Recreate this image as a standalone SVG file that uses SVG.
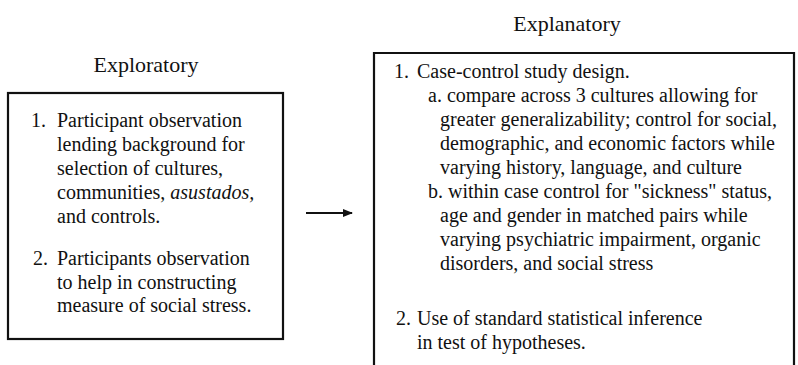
<svg xmlns="http://www.w3.org/2000/svg" width="798" height="365" viewBox="0 0 798 365">
<defs>
<style>
text{font-family:"Liberation Serif","Times New Roman",serif;fill:#111;}
.h{font-size:22px;}
.t{font-size:20px;}
.box{fill:none;stroke:#111;stroke-width:2.2;}
</style>
<marker id="ah" viewBox="0 0 10 10" refX="9" refY="5" markerWidth="10" markerHeight="10" markerUnits="userSpaceOnUse" orient="auto">
<path d="M0,1 L10,5 L0,9 Z" fill="#111"/>
</marker>
</defs>
<rect width="798" height="365" fill="#fff"/>
<g id="exploratory">
<text class="h" x="146" y="72" text-anchor="middle">Exploratory</text>
<rect class="box" x="8" y="93" width="275" height="246"/>
<text class="t" x="31" y="127">1.</text>
<text class="t" x="57" y="127">Participant observation</text>
<text class="t" x="57" y="151">lending background for</text>
<text class="t" x="57" y="175">selection of cultures,</text>
<text class="t" x="57" y="199">communities, <tspan font-style="italic">asustados,</tspan></text>
<text class="t" x="57" y="223">and controls.</text>
<text class="t" x="33" y="265">2.</text>
<text class="t" x="57" y="265">Participants observation</text>
<text class="t" x="57" y="288.5">to help in constructing</text>
<text class="t" x="57" y="312">measure of social stress.</text>
</g>
<g id="explanatory">
<text class="h" x="567" y="31" text-anchor="middle">Explanatory</text>
<path class="box" d="M374,372 V53 H794 V372"/>
<text class="t" x="394" y="78">1.</text>
<text class="t" x="417" y="78">Case-control study design.</text>
<text class="t" x="428" y="102">a. compare across 3 cultures allowing for</text>
<text class="t" x="440" y="126">greater generalizability; control for social,</text>
<text class="t" x="440" y="150">demographic, and economic factors while</text>
<text class="t" x="440" y="174">varying history, language, and culture</text>
<text class="t" x="428" y="198">b. within case control for "sickness" status,</text>
<text class="t" x="440" y="222">age and gender in matched pairs while</text>
<text class="t" x="440" y="246">varying psychiatric impairment, organic</text>
<text class="t" x="440" y="270">disorders, and social stress</text>
<text class="t" x="396" y="325">2.</text>
<text class="t" x="417" y="325">Use of standard statistical inference</text>
<text class="t" x="417" y="349">in test of hypotheses.</text>
</g>
<g id="connectors">
<line x1="306" y1="213" x2="352" y2="213" stroke="#111" stroke-width="2" marker-end="url(#ah)"/>
</g>
</svg>
